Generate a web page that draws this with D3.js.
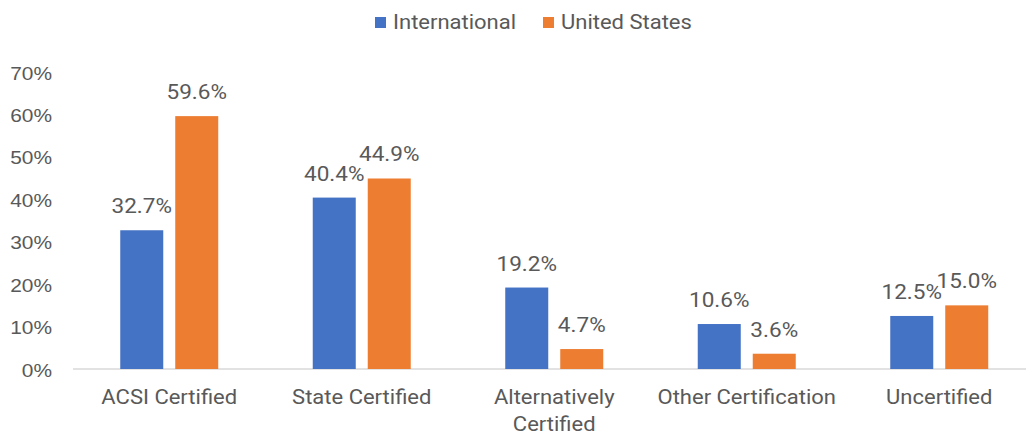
<!DOCTYPE html>
<html>
<head>
<meta charset="utf-8">
<script src="https://cdn.jsdelivr.net/npm/d3@7"></script>
<style>
  html, body { margin: 0; padding: 0; background: #fff; }
  svg { display: block; font-family: Roboto, "Noto Sans", sans-serif; }
</style>
</head>
<body>
<svg id="chart" width="1026" height="435"></svg>
<script>
const categories = [["ACSI Certified"], ["State Certified"], ["Alternatively", "Certified"], ["Other Certification"], ["Uncertified"]];
const seriesNames = ["International", "United States"];
const international = [0.327, 0.404, 0.192, 0.106, 0.125];
const unitedStates = [0.596, 0.449, 0.047, 0.036, 0.150];
const yTicks = [0, 0.1, 0.2, 0.3, 0.4, 0.5, 0.6, 0.7];
const colors = ["#4472C4", "#ED7D31"];

const svg = d3.select("#chart");
const W = 1026, H = 435;
const textColor = "#595959";
const SX = 1.1;

function label(parent, x, y, anchor, size, lines, lineH) {
  const t = parent.append("text")
    .attr("transform", `translate(${x},${y}) scale(${SX},1)`)
    .attr("text-anchor", anchor).attr("fill", textColor).style("font-size", size + "px");
  lines.forEach((line, j) => {
    t.append("tspan").attr("x", 0).attr("dy", j === 0 ? 0 : lineH).text(line);
  });
  return t;
}

const catKeys = categories.map(c => c.join(" "));
const x0 = d3.scaleBand().domain(catKeys).range([73, 1035.5]).paddingInner(0).paddingOuter(0);
const step = x0.step();
const groupW = 98;
const x1 = d3.scaleBand().domain(seriesNames).range([(step - groupW) / 2, (step + groupW) / 2]).paddingInner(0.218);
const y = d3.scaleLinear().domain([0, 0.7]).range([369, 72]);

// Y axis (ticks via scale)
const yAxis = d3.axisLeft(y).tickValues(yTicks).tickFormat(d3.format(".0%")).tickSize(0).tickPadding(0);
const yg = svg.append("g").attr("transform", "translate(52,0)").call(yAxis);
yg.select(".domain").remove();
yg.selectAll(".tick text").remove();
const yfmt = d3.format(".0%");
yg.selectAll(".tick").each(function(d) {
  label(d3.select(this), 0, 7, "end", 19, [yfmt(d)], 0);
});

// Baseline
const xAxis = d3.axisBottom(x0).tickSize(0).tickFormat("");
const xg = svg.append("g").attr("transform", `translate(0,${y(0)})`).call(xAxis);
xg.select(".domain").attr("stroke", "#D9D9D9").attr("stroke-width", 1.5).attr("d", `M73,0H${W}`);

// category labels
categories.forEach((c, i) => {
  const cx = x0(catKeys[i]) + step / 2;
  label(svg, cx, 404, "middle", 20, c, 27);
});

// bars
const data = [international, unitedStates];
const fmt = d3.format(".1%");
data.forEach((vals, s) => {
  const g = svg.append("g");
  g.selectAll("rect").data(vals).join("rect")
    .attr("x", (d, i) => x0(catKeys[i]) + x1(seriesNames[s]))
    .attr("y", d => y(d))
    .attr("width", x1.bandwidth())
    .attr("height", d => y(0) - y(d))
    .attr("fill", colors[s]);
  vals.forEach((d, i) => {
    label(g, x0(catKeys[i]) + x1(seriesNames[s]) + x1.bandwidth() / 2, y(d) - 17, "middle", 20.5, [fmt(d)], 0);
  });
});

// legend
const legendX = [375, 543];
seriesNames.forEach((n, i) => {
  svg.append("rect").attr("x", legendX[i]).attr("y", 17).attr("width", 11).attr("height", 11).attr("fill", colors[i]);
  label(svg, legendX[i] + 18, 29, "start", 20, [n], 0);
});
</script>
</body>
</html>
